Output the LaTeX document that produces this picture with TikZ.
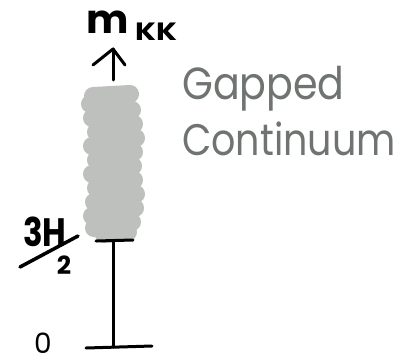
\documentclass[tikz,border=0pt]{standalone}
\usepackage{fontspec}
\setmainfont{Poppins}
\usetikzlibrary{arrows.meta}
\definecolor{blobgray}{RGB}{190,192,190}
\definecolor{textgray}{RGB}{112,116,112}
\begin{document}
\begin{tikzpicture}[x=1pt,y=-1pt,
  ink/.style={line width=3pt,line cap=round,line join=round,draw=black},
  blob/.style={line width=18pt,line cap=round,line join=round,draw=blobgray},
  lbl/.style={inner sep=0,anchor=base}]
\useasboundingbox (0,0) rectangle (395,362);
% gapped continuum scribble
\draw[blob] (93,96) -- (130,94) -- (90,104) -- (132,110) -- (92,118) -- (134,124)
  -- (96,132) -- (136,138) -- (92,146) -- (134,152) -- (96,160) -- (133,166)
  -- (92,174) -- (134,180) -- (96,188) -- (136,194) -- (94,202) -- (135,208)
  -- (92,216) -- (132,222) -- (94,228) -- (128,232) -- (104,234);
% axis
\coordinate (top) at (113,241);
\coordinate (bot) at (113,347);
\draw[ink] (top) -- (bot);
\draw[ink] (96,241) -- (133,240);
\draw[ink] (86,348) -- (152,346);
% arrow
\coordinate (a0) at (113,80);
\coordinate (a1) at (113,49);
\draw[ink] (a0) -- (a1);
\draw[ink] (93,65) -- (a1) -- (125,65);
% labels
\node[lbl,font=\fontsize{40}{40}\selectfont\bfseries] (m) at (108,33) {m};
\node[lbl,font=\fontsize{25}{25}\selectfont\bfseries] (kk) at (156,40) {\scalebox{1.2}[1]{KK}};
\node[lbl,font=\fontsize{28}{28}\selectfont] (zero) at (43,353) {0};
\node[lbl,font=\fontsize{36}{36}\selectfont\bfseries] (num) at (45,246) {\scalebox{0.9}[1.1]{3H}};
\node[lbl,font=\fontsize{25}{25}\selectfont\bfseries] (den) at (64,274) {2};
\draw[ink,line width=3.5pt] (20,267) -- (78,236);
\node[lbl,anchor=base west,font=\fontsize{36}{36}\selectfont,text=textgray] (g) at (182,99) {\scalebox{1.1}[1.25]{Gapped}};
\node[lbl,anchor=base west,font=\fontsize{34}{34}\selectfont,text=textgray] (c) at (182,155) {\scalebox{1.12}[1.3]{Continuum}};
\end{tikzpicture}
\end{document}
